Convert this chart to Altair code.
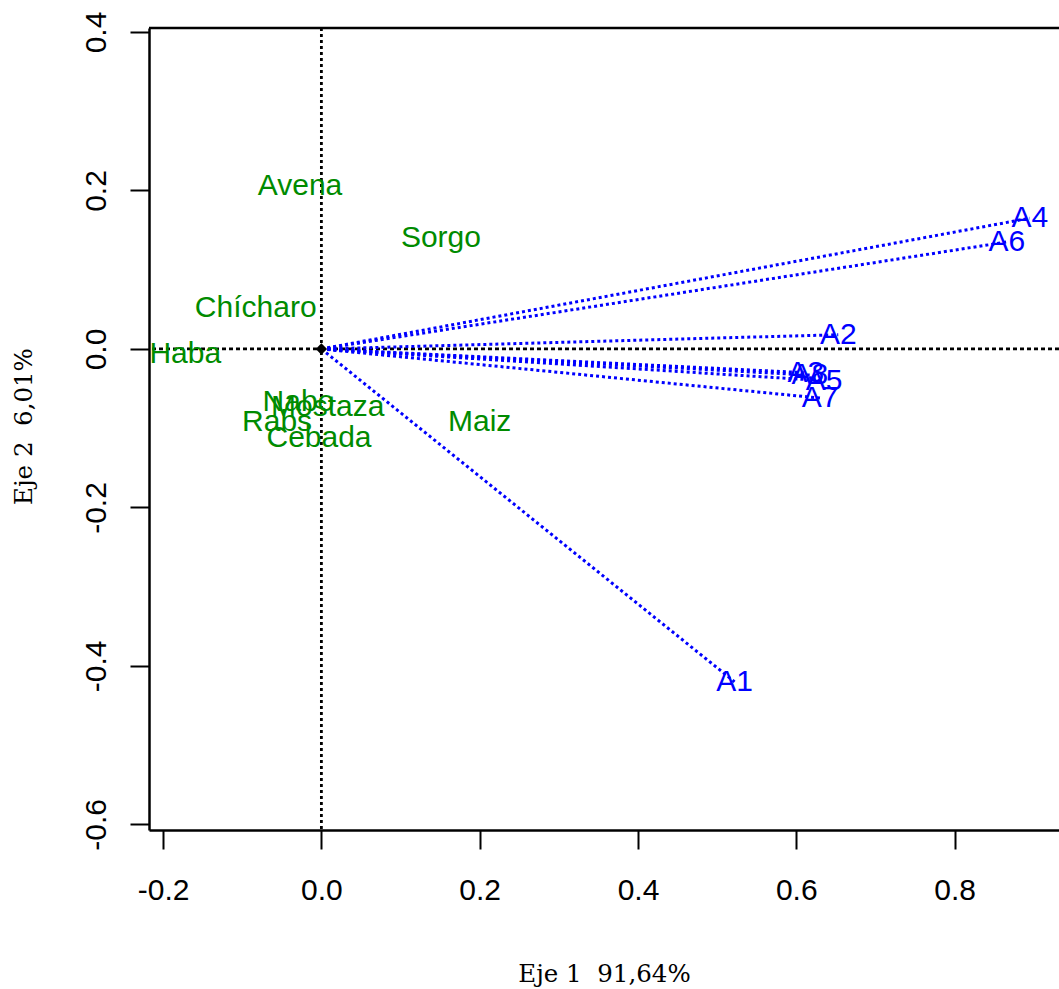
import altair as alt
import pandas as pd

# Crop scores (rows) on the first two axes
crops = ["Avena", "Sorgo", "Chícharo", "Haba", "Nabo", "Mostaza", "Rabs", "Cebada", "Maiz"]
crop_x = [-0.027, 0.151, -0.083, -0.172, -0.029, 0.008, -0.056, -0.003, 0.200]
crop_y = [0.206, 0.140, 0.052, -0.006, -0.067, -0.073, -0.092, -0.112, -0.092]

# Environment vectors (columns)
envs = ["A1", "A2", "A3", "A4", "A5", "A6", "A7", "A8"]
env_x = [0.522, 0.653, 0.612, 0.895, 0.635, 0.866, 0.630, 0.617]
env_y = [-0.420, 0.018, -0.030, 0.165, -0.040, 0.135, -0.062, -0.033]

x_ticks = [-0.2, 0.0, 0.2, 0.4, 0.6, 0.8]
y_ticks = [-0.6, -0.4, -0.2, 0.0, 0.2, 0.4]
x_domain = [-0.2178, 0.9319]
y_domain = [-0.607, 0.405]

# non-breaking spaces keep the double gap in the axis titles
x_title = "Eje 1\u00a0\u00a091,64%"
y_title = "Eje 2\u00a0\u00a06,01%"

W, H = 910, 802
LABEL_FONT = "Liberation Sans"
TITLE_FONT = "DejaVu Serif"
TICK_LABEL = "replace(format(datum.value, '.1f'), '\u2212', '-')"

crop_df = pd.DataFrame({"name": crops, "x": crop_x, "y": crop_y})
env_df = pd.DataFrame({"name": envs, "x": env_x, "y": env_y,
                       "x0": [0.0] * len(envs), "y0": [0.0] * len(envs)})
origin_df = pd.DataFrame({"x": [0.0], "y": [0.0]})

xs = alt.Scale(domain=x_domain, nice=False, zero=False)
ys = alt.Scale(domain=y_domain, nice=False, zero=False)

x_axis = alt.Axis(
    values=x_ticks, labelExpr=TICK_LABEL, title=x_title, grid=False,
    domain=True, domainColor="black", domainWidth=2.5,
    ticks=True, tickColor="black", tickWidth=2, tickSize=19,
    labelFont=LABEL_FONT, labelFontSize=30, labelColor="black",
    labelPadding=26, labelFlush=False, labelOverlap=False,
    titleFont=TITLE_FONT, titleFontSize=24.5, titleFontWeight="normal",
    titleColor="black", titleX=455, titleY=151,
    titleAlign="center", titleBaseline="alphabetic",
)
y_axis = alt.Axis(
    values=y_ticks, labelExpr=TICK_LABEL, title=y_title, grid=False,
    domain=True, domainColor="black", domainWidth=2.5,
    ticks=True, tickColor="black", tickWidth=2, tickSize=19,
    labelFont=LABEL_FONT, labelFontSize=30, labelColor="black",
    labelAngle=270, labelAlign="center", labelBaseline="alphabetic",
    labelPadding=25, labelFlush=False, labelOverlap=False,
    titleFont=TITLE_FONT, titleFontSize=24.5, titleFontWeight="normal",
    titleColor="black", titleAngle=270, titleX=-118, titleY=398,
    titleAlign="center", titleBaseline="alphabetic",
)

# Dotted reference lines through the origin
hline = alt.Chart(origin_df).mark_rule(
    color="black", strokeWidth=2.8, strokeDash=[4, 3]
).encode(y=alt.Y("y:Q", scale=ys, axis=y_axis))
vline = alt.Chart(origin_df).mark_rule(
    color="black", strokeWidth=2.8, strokeDash=[3, 3]
).encode(x=alt.X("x:Q", scale=xs, axis=x_axis))

# Top border of the frame
top_rule = alt.Chart(origin_df).mark_rule(color="black", strokeWidth=2.5).encode(
    x=alt.value(0), x2=alt.value(W), y=alt.value(0)
)

# Environment vectors from the origin
vectors = alt.Chart(env_df).mark_rule(
    color="#0000FF", strokeWidth=3, strokeDash=[3, 3]
).encode(
    x=alt.X("x0:Q", scale=xs), y=alt.Y("y0:Q", scale=ys),
    x2="x:Q", y2="y:Q",
)
env_text = alt.Chart(env_df).mark_text(
    font=LABEL_FONT, fontSize=30, color="#0000FF",
    align="center", baseline="middle", clip=True,
).encode(x=alt.X("x:Q", scale=xs), y=alt.Y("y:Q", scale=ys), text="name:N")

crop_text = alt.Chart(crop_df).mark_text(
    font=LABEL_FONT, fontSize=30, color="#008B00",
    align="center", baseline="middle", clip=True,
).encode(x=alt.X("x:Q", scale=xs), y=alt.Y("y:Q", scale=ys), text="name:N")

origin = alt.Chart(origin_df).mark_point(
    shape="diamond", filled=True, color="black", size=130, opacity=1
).encode(x=alt.X("x:Q", scale=xs), y=alt.Y("y:Q", scale=ys))

chart = alt.layer(
    hline, vline, top_rule, vectors, origin, env_text, crop_text
).properties(
    width=W, height=H,
    autosize=alt.AutoSizeParams(type="none"),
    padding={"left": 149, "top": 28, "right": 0, "bottom": 159},
).configure_view(stroke=None).configure(background="white")

chart.save("out.html", embed_options={"renderer": "svg", "actions": False})
